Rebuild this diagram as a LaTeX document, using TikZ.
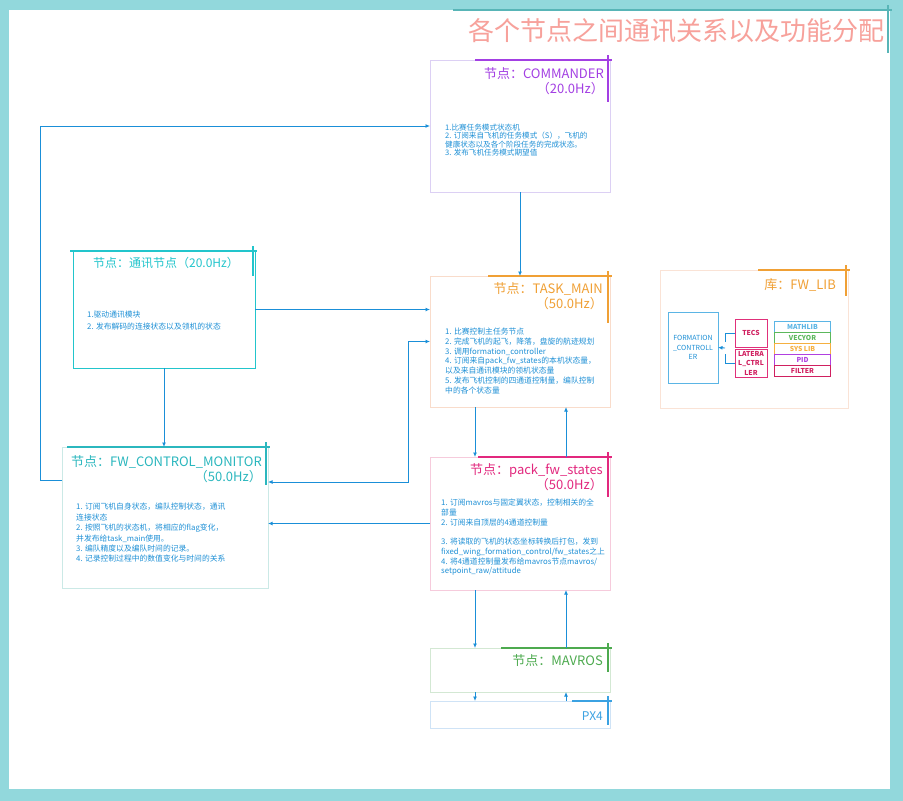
\documentclass[tikz,border=0pt]{standalone}
\usepackage{fontspec}
\setmainfont{Noto Sans CJK SC}
\usetikzlibrary{arrows.meta,positioning,calc}

\definecolor{framecol}{HTML}{92D8DC}
\definecolor{headcol}{HTML}{F7A19B}
\definecolor{bodycol}{HTML}{1E90D6}
\definecolor{linkcol}{HTML}{1A8FD8}
\definecolor{cmdcol}{HTML}{A33FE3}
\definecolor{cmdline}{HTML}{DCD0F4}
\definecolor{comcol}{HTML}{22C5CC}
\definecolor{taskcol}{HTML}{F0A035}
\definecolor{taskline}{HTML}{F9DCCB}
\definecolor{moncol}{HTML}{2BB7BE}
\definecolor{monline}{HTML}{CBE9E6}
\definecolor{packcol}{HTML}{E2287E}
\definecolor{packline}{HTML}{F6CBDC}
\definecolor{mavcol}{HTML}{4DAA4F}
\definecolor{mavline}{HTML}{D3E8D3}
\definecolor{pxcol}{HTML}{3BA2E2}
\definecolor{pxline}{HTML}{CFE3F6}
\definecolor{libline}{HTML}{FAE3D6}
\definecolor{fcblue}{HTML}{5BB5E5}
\definecolor{pinkcol}{HTML}{E0307A}
\definecolor{libgreen}{HTML}{5CB85C}
\definecolor{liborange}{HTML}{F5B040}
\definecolor{libpurple}{HTML}{B040E0}
\definecolor{libred}{HTML}{D02060}

% thick accent on the top right corner of a box
\newcommand{\cornermark}[4]{%
  \draw[#2, line width=1.6pt] ([xshift=-#3]#1.north east) -- ([xshift=2pt]#1.north east);
  \draw[#2, line width=1.6pt] ([xshift=-2pt, yshift=5pt]#1.north east) -- ++(0pt,-#4);
}

\begin{document}
\begin{tikzpicture}[
  x=1pt, y=-1pt,
  >={Latex[length=4.5pt,width=4pt]},
  box/.style={draw, line width=0.8pt, inner sep=0pt, outer sep=0pt},
  ttl/.style={font=\fontsize{13}{15}\selectfont, align=right, inner sep=0pt},
  body/.style={font=\fontsize{7.8}{9.7}\selectfont, align=left, inner sep=0pt, text=bodycol},
  link/.style={draw=linkcol, line width=1pt},
  libbox/.style={draw, line width=1pt, inner sep=0pt, outer sep=0pt,
                 minimum width=56pt, minimum height=11pt,
                 font=\fontsize{6.8}{8}\selectfont\bfseries},
]
\useasboundingbox (0,0) rectangle (903,801);
\fill[framecol] (0,0) rectangle (903,801);
\fill[white] (9,10) rectangle (890,789);

% title
\node[inner sep=0pt, outer sep=0pt, minimum width=437pt, minimum height=45pt] (head) at (671.5,32.5) {};
\node[font=\fontsize{26}{29}\selectfont, text=headcol, inner sep=0pt,
      below left=8pt and 5pt of head.north east] (headtxt) {各个节点之间通讯关系以及功能分配};
\cornermark{head}{framecol!60!teal}{437pt}{48pt}

% nodes
\node[box, draw=cmdline, minimum width=180pt, minimum height=132pt] (cmd) at (520,126) {};
\node[ttl, text=cmdcol, below left=7pt and 6pt of cmd.north east] (cmdttl) {节点：COMMANDER\\（20.0Hz）};
\node[body, font=\fontsize{7.6}{8.3}\selectfont, below right=64pt and 15pt of cmd.north west] (cmdtxt)
  {1.比赛任务模式状态机\\2. 订阅来自飞机的任务模式（S），飞机的\\健康状态以及各个阶段任务的完成状态。\\3. 发布飞机任务模式期望值};
\cornermark{cmd}{cmdcol}{135pt}{47pt}

\node[box, draw=comcol, minimum width=182pt, minimum height=117pt] (com) at (164,309.5) {};
\node[ttl, font=\fontsize{12}{14}\selectfont, text=comcol, below=6pt of com.north, xshift=2pt] (comttl) {节点：通讯节点（20.0Hz）};
\node[body, font=\fontsize{7.8}{11.8}\selectfont, below right=60pt and 14pt of com.north west] (comtxt)
  {1.驱动通讯模块\\2. 发布解码的连接状态以及领机的状态};
\cornermark{com}{comcol}{185pt}{30pt}

\node[box, draw=taskline, minimum width=180pt, minimum height=131pt] (task) at (520,341.5) {};
\node[ttl, text=taskcol, below left=6pt and 7pt of task.north east] (taskttl) {节点：TASK\_MAIN\\（50.0Hz）};
\node[body, below right=52pt and 15pt of task.north west] (tasktxt)
  {1. 比赛控制主任务节点\\2. 完成飞机的起飞，降落，盘旋的航迹规划\\3. 调用formation\_controller\\4. 订阅来自pack\_fw\_states的本机状态量，\\以及来自通讯模块的领机状态量\\5. 发布飞机控制的四通道控制量，编队控制\\中的各个状态量};
\cornermark{task}{taskcol}{122pt}{52pt}

\node[box, draw=monline, minimum width=206pt, minimum height=141pt] (mon) at (165,517.5) {};
\node[ttl, text=moncol, below left=8pt and 6pt of mon.north east] (monttl) {节点：FW\_CONTROL\_MONITOR\\（50.0Hz）};
\node[body, font=\fontsize{7.8}{10.4}\selectfont, below right=56pt and 14pt of mon.north west] (montxt)
  {1. 订阅飞机自身状态，编队控制状态，通讯\\连接状态\\2. 按照飞机的状态机，将相应的flag变化，\\并发布给task\_main使用。\\3. 编队精度以及编队时间的记录。\\4. 记录控制过程中的数值变化与时间的关系};
\cornermark{mon}{moncol}{201pt}{43pt}

\node[box, draw=packline, minimum width=180pt, minimum height=133pt] (pack) at (520,523.5) {};
\node[ttl, text=packcol, below left=6pt and 7pt of pack.north east] (packttl) {节点：pack\_fw\_states\\（50.0Hz）};
\node[body, below right=42pt and 11pt of pack.north west] (packtxt)
  {1. 订阅mavros与固定翼状态，控制相关的全\\部量\\2. 订阅来自顶层的4通道控制量\\[9.7pt]3. 将读取的飞机的状态坐标转换后打包，发到\\fixed\_wing\_formation\_control/fw\_states之上\\4. 将4通道控制量发布给mavros节点mavros/\\setpoint\_raw/attitude};
\cornermark{pack}{packcol}{132pt}{45pt}

\node[box, draw=mavline, minimum width=180pt, minimum height=44pt] (mav) at (520,670) {};
\node[ttl, text=mavcol, below left=6pt and 7pt of mav.north east] (mavttl) {节点：MAVROS};
\cornermark{mav}{mavcol}{109pt}{29pt}

\node[box, draw=pxline, minimum width=180pt, minimum height=27pt] (px) at (520,714.5) {};
\node[ttl, font=\fontsize{12}{14}\selectfont, text=pxcol, below left=10pt and 7pt of px.north east] (pxttl) {PX4};
\cornermark{px}{pxcol}{38pt}{29pt}

% library
\node[box, draw=libline, minimum width=188pt, minimum height=138pt] (lib) at (754,339) {};
\node[ttl, text=taskcol, below left=8pt and 12pt of lib.north east] (libttl) {库：FW\_LIB};
\cornermark{lib}{taskcol}{90pt}{31pt}

\node[box, draw=fcblue, line width=1pt, minimum width=50pt, minimum height=71pt, align=center,
      text=bodycol, font=\fontsize{7}{9.5}\selectfont] (fc) at (693,347.5) {FORMATION\\\_CONTROLL\\ER};
\node[box, draw=pinkcol, line width=1pt, minimum width=32pt, minimum height=28pt, align=center,
      text=libred, font=\fontsize{6.8}{9.5}\selectfont\bfseries] (tecs) at (751,333) {TECS};
\node[box, draw=pinkcol, line width=1pt, minimum width=32pt, minimum height=28pt, align=center,
      text=libred, font=\fontsize{6.8}{9.5}\selectfont\bfseries] (lat) at (751,363) {LATERA\\L\_CTRL\\LER};
\foreach \lname/\lcol [count=\i from 0] in {MATHLIB/fcblue, VECYOR/libgreen, SYS LIB/liborange, PID/libpurple, FILTER/libred}
  \node[libbox, draw=\lcol, text=\lcol] (lib\i) at (802.5, 326.5+11*\i) {\lname};

\draw[link, line width=0.9pt] (tecs.west) -- ++(-10,0) -- ++(0,9);
\draw[link, line width=0.9pt] (lat.west) -- ++(-10,0) -- ++(0,-9);
\draw[link, line width=0.9pt, ->] ($(tecs.west)!.5!(lat.west)+(-10,0)$) -- (fc.east);

% connectors
\draw[link, ->] ($(mon.north west)+(0,33)$) -- ++(-22,0) |- (cmd.west);
\draw[link, ->] (cmd.south) -- (task.north);
\draw[link, ->] (com.east) -- (com.east -| task.west);
\draw[link, ->] (com.south) -- (com.south |- mon.north);
\draw[link, <->] (task.west) -- ++(-22,0) |- ($(mon.north east)+(0,35)$);
\draw[link, ->] (pack.west) -- (pack.west -| mon.east);
\foreach \upper/\lower in {task/pack, pack/mav, mav/px} {
  \draw[link, ->] ($(\upper.south)+(-45,0)$) -- ($(\lower.north)+(-45,0)$);
  \draw[link, ->] ($(\lower.north)+(46,0)$) -- ($(\upper.south)+(46,0)$);
}
\end{tikzpicture}
\end{document}
